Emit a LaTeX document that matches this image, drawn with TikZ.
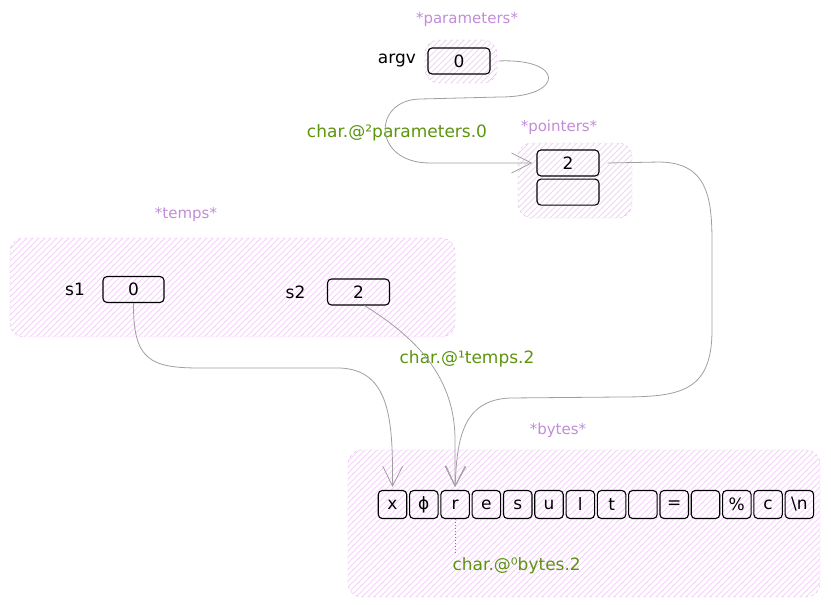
\documentclass[tikz,border=0pt]{standalone}
\usepackage{fontspec}
\setmainfont{DejaVu Sans}
\usepackage{tikz}
\usetikzlibrary{shapes,arrows,arrows.meta,positioning}
\definecolor{titlepurple}{HTML}{C38BD9}
\definecolor{refgreen}{HTML}{5C940D}
\definecolor{hatchpink}{HTML}{F1D3F6}
\definecolor{boxpink}{HTML}{E3B0EC}

\begin{document}
\begin{tikzpicture}[
    x=1pt, y=-1pt,
    % Memory regions (hatched)
    region/.style={rectangle, rounded corners=14pt, draw=boxpink, dashed,
        path picture={
            \foreach \d in {-160,-154,...,480}
                \draw[hatchpink, line width=0.9pt, solid]
                    ([xshift=\d pt]path picture bounding box.south west) -- ++(200pt,200pt);
        }},
    regiontitle/.style={text=titlepurple, font=\fontsize{15}{17}\selectfont},
    % Slots
    cell/.style={rectangle, rounded corners=4pt, draw=black, line width=1.1pt,
        minimum width=62pt, minimum height=26pt, inner sep=0pt, font=\fontsize{17}{19}\selectfont},
    byte/.style={cell, minimum width=28.5pt, minimum height=28pt},
    varname/.style={font=\fontsize{17}{19}\selectfont},
    % Pointer arrows
    link/.style={-{Straight Barb[length=20pt, width=20pt]}, draw=gray!75, line width=0.8pt},
    ptrlabel/.style={text=refgreen, font=\fontsize{17}{19}\selectfont},
    tick/.style={dotted, draw=gray, line width=1pt}
]
    \useasboundingbox (0,0) rectangle (831,605);

    % Regions
    \node[region, minimum width=72pt, minimum height=43pt] (params) at (461,61.5) {};
    \node[region, minimum width=114pt, minimum height=75pt] (pointers) at (575,180.5) {};
    \node[region, minimum width=445pt, minimum height=99pt] (temps) at (232.5,287.5) {};
    \node[region, minimum width=472pt, minimum height=147pt] (bytes) at (584,523.5) {};

    \node[regiontitle] (paramstitle) at (467,19) {*parameters*};
    \node[regiontitle] (pointerstitle) at (559,127) {*pointers*};
    \node[regiontitle] (tempstitle) at (186,214) {*temps*};
    \node[regiontitle] (bytestitle) at (558,430) {*bytes*};

    % Parameters and pointers
    \node[cell] (argv) at (459,61) {0};
    \node[varname, left=8pt of argv] (argvname) {argv};
    \node[cell] (ptrA) at (568,163) {2};
    \node[cell, below=2pt of ptrA] (ptrB) {};

    % Temps
    \node[cell, minimum width=61pt] (s1) at (133.5,289.5) {0};
    \node[varname, left=14pt of s1] (s1name) {s1};
    \node[cell] (s2) at (358.5,292) {2};
    \node[varname, left=18pt of s2] (s2name) {s2};

    % Bytes
    \node[byte] (bx) at (392.5,504.5) {x};
    \node[byte, right=1.7pt of bx] (bphi) {ϕ};
    \node[byte, right=1.7pt of bphi] (br) {r};
    \node[byte, right=1.7pt of br] (be) {e};
    \node[byte, right=1.7pt of be] (bs) {s};
    \node[byte, right=1.7pt of bs] (bu) {u};
    \node[byte, right=1.7pt of bu] (bl) {l};
    \node[byte, right=1.7pt of bl] (bt) {t};
    \node[byte, right=1.7pt of bt] (bspA) {};
    \node[byte, right=1.7pt of bspA] (beq) {=};
    \node[byte, right=1.7pt of beq] (bspB) {};
    \node[byte, right=1.7pt of bspB] (bpct) {\%};
    \node[byte, right=1.7pt of bpct] (bc) {c};
    \node[byte, right=1.7pt of bc] (bnl) {\textbackslash n};

    % Pointer labels
    \node[ptrlabel] (paramslbl) at (397,133) {char.@²parameters.0};
    \node[ptrlabel] (tempslbl) at (467,359) {char.@¹temps.2};
    \node[ptrlabel, anchor=west] (byteslbl) at (449,566) {char.@⁰bytes.2};

    % Pointer arrows
    \draw[link] ([xshift=8pt]argv.east) .. controls (565,58) and (565,97) .. (500,97)
        -- (420,99) .. controls (372,100) and (372,163) .. (430,163) -- ([xshift=-4pt]ptrA.west);
    \draw[link] ([xshift=8pt]ptrA.east) -- (660,162) .. controls (715,163) and (712,210) .. (712,260)
        -- (712,330) .. controls (712,392) and (680,397) .. (620,397)
        -- (510,398) .. controls (462,400) and (457,440) .. ([yshift=3pt]br.north);
    \draw[link] (s1.south) .. controls (133,360) and (150,368) .. (200,368)
        -- (340,368) .. controls (390,370) and (393,420) .. ([yshift=3pt]bx.north);
    \draw[link] ([xshift=6pt]s2.south) .. controls (420,340) and (455,380) .. (455,440)
        -- ([yshift=3pt]br.north);
    \draw[tick] (br.south) -- (br.south |- byteslbl.north);
\end{tikzpicture}
\end{document}
